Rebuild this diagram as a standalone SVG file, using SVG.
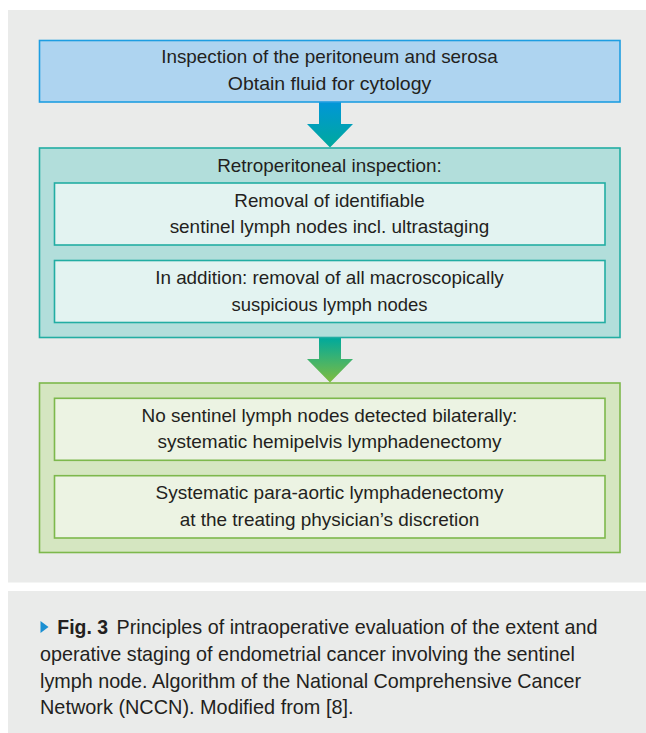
<svg xmlns="http://www.w3.org/2000/svg" width="646" height="733" viewBox="0 0 646 733">
<defs>
<style>
text{font-family:"Liberation Sans",Arial,sans-serif;fill:#231f20;text-anchor:middle;font-size:18.5px}
.cap{text-anchor:start;font-size:19.8px}
.blue{fill:#aed4f0;stroke:#1e9ee2;stroke-width:1.6}
.teal{fill:#b2dedb;stroke:#22ada3;stroke-width:1.6}
.tealin{fill:#e3f3f1;stroke:#22ada3;stroke-width:1.6}
.green{fill:#d5e6c1;stroke:#7db84c;stroke-width:1.6}
.greenin{fill:#ecf3e3;stroke:#7db84c;stroke-width:1.6}
</style>
<linearGradient id="g1" x1="0" y1="0" x2="0" y2="1"><stop offset="0" stop-color="#0096d8"/><stop offset="1" stop-color="#00a99c"/></linearGradient>
<linearGradient id="g2" x1="0" y1="0" x2="0" y2="1"><stop offset="0" stop-color="#00a99c"/><stop offset="1" stop-color="#80bd3e"/></linearGradient>
</defs>
<rect x="0" y="0" width="646" height="733" fill="#ffffff"/>
<rect x="8" y="10" width="638" height="572.5" fill="#eaebea"/>
<rect x="8" y="591" width="638" height="142" fill="#eaebea"/>

<g id="connectors">
<path d="M319,102 H341 V124 H353 L330,147.5 L307,124 H319 Z" fill="url(#g1)"/>
<path d="M319,338 H341 V359 H353 L330,382.5 L307,359 H319 Z" fill="url(#g2)"/>
</g>

<g id="node1">
<rect class="blue" x="39.5" y="40.5" width="580.5" height="61.5"/>
<text x="329.5" y="63" textLength="336.6" lengthAdjust="spacingAndGlyphs">Inspection of the peritoneum and serosa</text>
<text x="329.5" y="90" textLength="203.5" lengthAdjust="spacingAndGlyphs">Obtain fluid for cytology</text>
</g>

<g id="node2">
<rect class="teal" x="39.5" y="148" width="580.5" height="189.5"/>
<text x="329.5" y="171.5" textLength="224.6" lengthAdjust="spacingAndGlyphs">Retroperitoneal inspection:</text>
</g>
<g id="node2a">
<rect class="tealin" x="54.5" y="183" width="550.5" height="62"/>
<text x="329.5" y="206.5" textLength="190.4" lengthAdjust="spacingAndGlyphs">Removal of identifiable</text>
<text x="329.5" y="233.3" textLength="319.7" lengthAdjust="spacingAndGlyphs">sentinel lymph nodes incl. ultrastaging</text>
</g>
<g id="node2b">
<rect class="tealin" x="54.5" y="260.5" width="550.5" height="62"/>
<text x="329.5" y="284" textLength="348.6" lengthAdjust="spacingAndGlyphs">In addition: removal of all macroscopically</text>
<text x="329.5" y="310.5" textLength="196.1" lengthAdjust="spacingAndGlyphs">suspicious lymph nodes</text>
</g>

<g id="node3">
<rect class="green" x="39.5" y="383" width="580.5" height="169.5"/>
</g>
<g id="node3a">
<rect class="greenin" x="54.5" y="398.3" width="550.5" height="62"/>
<text x="329.5" y="421.7" textLength="375.8" lengthAdjust="spacingAndGlyphs">No sentinel lymph nodes detected bilaterally:</text>
<text x="329.5" y="448.3" textLength="344" lengthAdjust="spacingAndGlyphs">systematic hemipelvis lymphadenectomy</text>
</g>
<g id="node3b">
<rect class="greenin" x="54.5" y="475.7" width="550.5" height="62.3"/>
<text x="329.5" y="499.3" textLength="347.8" lengthAdjust="spacingAndGlyphs">Systematic para-aortic lymphadenectomy</text>
<text x="329.5" y="526" textLength="299.6" lengthAdjust="spacingAndGlyphs">at the treating physician’s discretion</text>
</g>

<g id="caption">
<polygon points="40.5,621 48.5,627 40.5,633" fill="#1a8fd2"/>
<text class="cap" x="57.3" y="634.3" font-weight="bold" textLength="50.7" lengthAdjust="spacingAndGlyphs">Fig. 3</text>
<text class="cap" x="116.6" y="634.3" textLength="480.8" lengthAdjust="spacingAndGlyphs">Principles of intraoperative evaluation of the extent and</text>
<text class="cap" x="40" y="661" textLength="534.8" lengthAdjust="spacingAndGlyphs">operative staging of endometrial cancer involving the sentinel</text>
<text class="cap" x="40" y="687.7" textLength="541" lengthAdjust="spacingAndGlyphs">lymph node. Algorithm of the National Comprehensive Cancer</text>
<text class="cap" x="40" y="714.3" textLength="313.5" lengthAdjust="spacingAndGlyphs">Network (NCCN). Modified from [8].</text>
</g>
</svg>
